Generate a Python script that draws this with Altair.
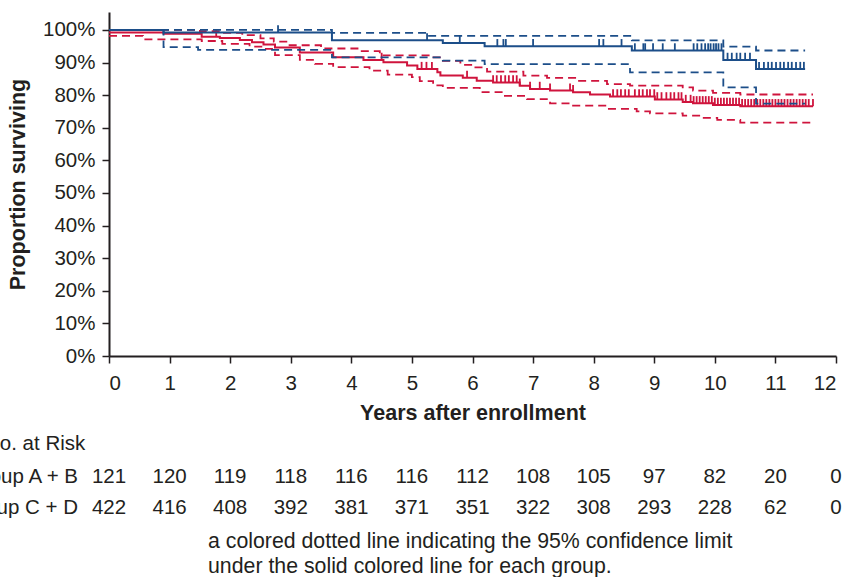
import altair as alt
import pandas as pd
from bisect import bisect_right

# ---------------- data ----------------
# Group A + B (blue) Kaplan-Meier estimate and 95% limits (years, %)
ab_t = [0, 0.9, 3.68, 5.51, 6.2, 8.63, 10.14, 10.68, 11.49]
ab_s = [100, 99.2, 96.8, 96.0, 95.0, 93.7, 90.8, 88.0, 88.0]
ab_up_t = [0, 3.68, 5.25, 8.63, 10.14, 10.68, 11.49]
ab_up_s = [100, 99.1, 98.2, 96.8, 94.9, 93.7, 93.7]
ab_lo_t = [0, 0.9, 1.47, 3.68, 5.51, 6.2, 8.6, 10.14, 10.68, 11.49]
ab_lo_s = [100, 94.7, 93.9, 91.6, 90.6, 89.5, 87.0, 82.4, 77.4, 77.4]

# Group C + D (red)
cd_t = [0, 0.9, 1.53, 1.83, 2.16, 2.36, 2.55, 2.74, 3.15, 3.7, 4.2, 4.53, 4.92,
        5.09, 5.42, 5.47, 5.84, 6.07, 6.34, 6.78, 6.95, 7.28, 7.66, 7.94, 8.27,
        9.01, 9.47, 9.64, 9.97, 10.42, 11.62]
cd_s = [99.2, 98.8, 97.9, 97.5, 96.9, 96.2, 95.5, 94.6, 93.1, 91.6, 90.8, 90.1, 89.1,
        88.0, 87.0, 86.0, 85.3, 84.4, 83.9, 82.9, 81.9, 81.4, 80.9, 80.2, 79.6,
        78.7, 77.9, 77.5, 77.0, 76.6, 76.6]
cd_up_t = [0, 1.5, 1.87, 2.2, 2.5, 2.72, 2.95, 3.5, 4.14, 4.47, 5.3, 5.46, 5.8, 6.0,
           6.24, 6.84, 7.23, 7.73, 8.22, 8.6, 9.47, 9.64, 9.97, 10.42, 11.62]
cd_up_s = [100, 99.6, 99.1, 98.4, 97.4, 96.4, 95.3, 94.3, 93.5, 92.2, 91.6, 90.5, 89.3, 88.5,
           87.2, 86.0, 85.3, 84.4, 83.4, 82.9, 82.4, 81.4, 80.7, 80.2, 80.2]
cd_lo_t = [0, 0.56, 1.53, 1.87, 2.32, 2.55, 2.74, 3.15, 3.4, 3.7, 4.3, 4.6, 5.0, 5.13,
           5.35, 5.51, 6.12, 6.5, 6.9, 7.28, 7.66, 8.22, 8.71, 8.93, 9.47, 9.8, 10.04,
           10.42, 11.65]
cd_lo_s = [98.2, 97.1, 96.6, 95.7, 94.9, 94.2, 92.3, 90.8, 89.6, 88.6, 87.5, 86.3, 85.5, 84.3,
           83.0, 82.2, 80.9, 79.8, 78.8, 77.5, 76.8, 75.8, 75.0, 74.4, 73.7, 73.0, 72.4,
           71.6, 71.6]

# censoring marks (years)
ab_cens = [2.79, 5.25, 5.79, 6.41, 6.51, 6.55, 7.0, 8.09, 8.16, 8.46, 8.68, 8.82,
           8.85, 8.98, 9.14, 9.34, 9.65, 9.71, 9.78, 9.84, 9.89, 9.93, 9.98, 10.02,
           10.06, 10.11, 10.21, 10.28, 10.36, 10.42, 10.50, 10.58, 10.73, 10.81,
           10.88, 10.94, 11.01, 11.08, 11.14, 11.21, 11.27, 11.34, 11.41, 11.47]
cd_cens = [1.77, 4.50, 5.16, 5.24, 5.33, 5.91, 6.34, 6.40, 6.47, 6.54, 6.60, 6.67,
           6.73, 6.78, 6.95, 7.11, 7.28, 7.61, 7.66, 8.32, 8.39, 8.45, 8.52, 8.58,
           8.68, 8.75, 8.81, 8.88, 8.93, 9.0, 9.05, 9.12, 9.2, 9.27, 9.33, 9.4, 9.45,
           9.52, 9.6, 9.65, 9.7, 9.75, 9.8, 9.85, 9.9, 9.95, 10.0, 10.05, 10.1, 10.15,
           10.2, 10.25, 10.3, 10.35, 10.4, 10.45, 10.5, 10.55, 10.6, 10.65, 10.7,
           10.75, 10.8, 10.85, 10.9, 10.95, 11.0, 11.05, 11.1, 11.15, 11.2, 11.25,
           11.3, 11.35, 11.4, 11.45, 11.5, 11.55, 11.62]

# numbers at risk
risk_years = [0, 1, 2, 3, 4, 5, 6, 7, 8, 9, 10, 11, 12]
risk_ab = [121, 120, 119, 118, 116, 116, 112, 108, 105, 97, 82, 20, 0]
risk_cd = [422, 416, 408, 392, 381, 371, 351, 322, 308, 293, 228, 62, 0]

groups = ["Group A + B", "Group C + D"]
colors = ["#1c4e89", "#cf143d"]

# ---------------- frames ----------------
def frame(ts, ss, group, series):
    return pd.DataFrame({"t": ts, "v": ss, "group": group, "series": series})

def cens_frame(st, ss, cens, group):
    vals = [ss[bisect_right(st, c) - 1] for c in cens]
    return pd.DataFrame({"t": cens, "v": vals, "group": group})

solid = {
    "Group A + B": frame(ab_t, ab_s, "Group A + B", "ab"),
    "Group C + D": frame(cd_t, cd_s, "Group C + D", "cd"),
}
dashed = {
    "Group A + B": pd.concat([frame(ab_up_t, ab_up_s, "Group A + B", "ab_up"),
                              frame(ab_lo_t, ab_lo_s, "Group A + B", "ab_lo")]),
    "Group C + D": pd.concat([frame(cd_up_t, cd_up_s, "Group C + D", "cd_up"),
                              frame(cd_lo_t, cd_lo_s, "Group C + D", "cd_lo")]),
}
cens = {
    "Group A + B": cens_frame(ab_t, ab_s, ab_cens, "Group A + B"),
    "Group C + D": cens_frame(cd_t, cd_s, cd_cens, "Group C + D"),
}

FONT = "Liberation Sans"
INK = "#231f20"
FS = 20.5

x_enc = alt.X("t:Q", scale=alt.Scale(domain=[0, 12], nice=False),
              axis=alt.Axis(values=list(range(13)), title="Years after enrollment",
                            tickSize=7, labelPadding=10, titlePadding=9))
y_enc = alt.Y("v:Q", scale=alt.Scale(domain=[0, 105.5], nice=False),
              axis=alt.Axis(values=list(range(0, 101, 10)), labelExpr="datum.value + '%'",
                            title="Proportion surviving", tickSize=7, labelPadding=7,
                            titlePadding=13))
c_enc = alt.Color("group:N", scale=alt.Scale(domain=groups, range=colors), legend=None)

layers = []
for g in ["Group C + D", "Group A + B"]:
    layers.append(alt.Chart(dashed[g]).mark_line(
        interpolate="step-after", strokeWidth=1.8, strokeDash=[8, 5]
    ).encode(x=x_enc, y=y_enc, color=c_enc, detail="series:N"))
    layers.append(alt.Chart(solid[g]).mark_line(
        interpolate="step-after", strokeWidth=2
    ).encode(x=x_enc, y=y_enc, color=c_enc, detail="series:N"))
    layers.append(alt.Chart(cens[g]).transform_calculate(v2="datum.v + 2.2").mark_rule(
        strokeWidth=1.8
    ).encode(x=x_enc, y=y_enc, y2="v2:Q", color=c_enc))

# at-risk table
risk_df = pd.DataFrame({"t": risk_years * 2, "n": risk_ab + risk_cd,
                        "row": ["ab"] * 13 + ["cd"] * 13})
txt = dict(font=FONT, fontSize=FS, color=INK, baseline="middle")
layers.append(alt.Chart(risk_df).transform_filter("datum.row == 'ab'").mark_text(
    align="center", **txt).encode(x=x_enc, y=alt.value(465), text="n:Q"))
layers.append(alt.Chart(risk_df).transform_filter("datum.row == 'cd'").mark_text(
    align="center", **txt).encode(x=x_enc, y=alt.value(496), text="n:Q"))

row_labels = pd.DataFrame({"label": groups})
layers.append(alt.Chart(row_labels).transform_filter("datum.label == 'Group A + B'").mark_text(
    align="right", **txt).encode(x=alt.value(-31), y=alt.value(465), text="label:N"))
layers.append(alt.Chart(row_labels).transform_filter("datum.label == 'Group C + D'").mark_text(
    align="right", **txt).encode(x=alt.value(-31), y=alt.value(496), text="label:N"))

head = pd.DataFrame({"label": ["No. at Risk"]})
layers.append(alt.Chart(head).mark_text(align="left", **txt).encode(
    x=alt.value(-124), y=alt.value(432), text="label:N"))

cap = dict(font=FONT, fontSize=21.3, color=INK, baseline="middle")
caption = pd.DataFrame({"label": [
    "a colored dotted line indicating the 95% confidence limit",
    "under the solid colored line for each group."]})
layers.append(alt.Chart(caption).transform_filter(
    "indexof(datum.label, 'a colored') == 0").mark_text(align="left", **cap).encode(
    x=alt.value(99), y=alt.value(530), text="label:N"))
layers.append(alt.Chart(caption).transform_filter(
    "indexof(datum.label, 'under') == 0").mark_text(align="left", **cap).encode(
    x=alt.value(99), y=alt.value(555), text="label:N"))

chart = alt.layer(*layers).properties(
    width=727, height=344,
    autosize=alt.AutoSizeParams(type="none"),
    padding={"left": 109, "top": 12, "right": 10, "bottom": 221},
).configure_view(stroke=None).configure_axis(
    grid=False, domainColor=INK, domainWidth=2, tickColor=INK, tickWidth=1.5,
    labelFont=FONT, labelFontSize=FS, labelColor=INK,
    titleFont=FONT, titleFontSize=21.5, titleFontWeight="bold", titleColor=INK,
)

chart.save("out.html", embed_options={"renderer": "svg", "actions": False})
